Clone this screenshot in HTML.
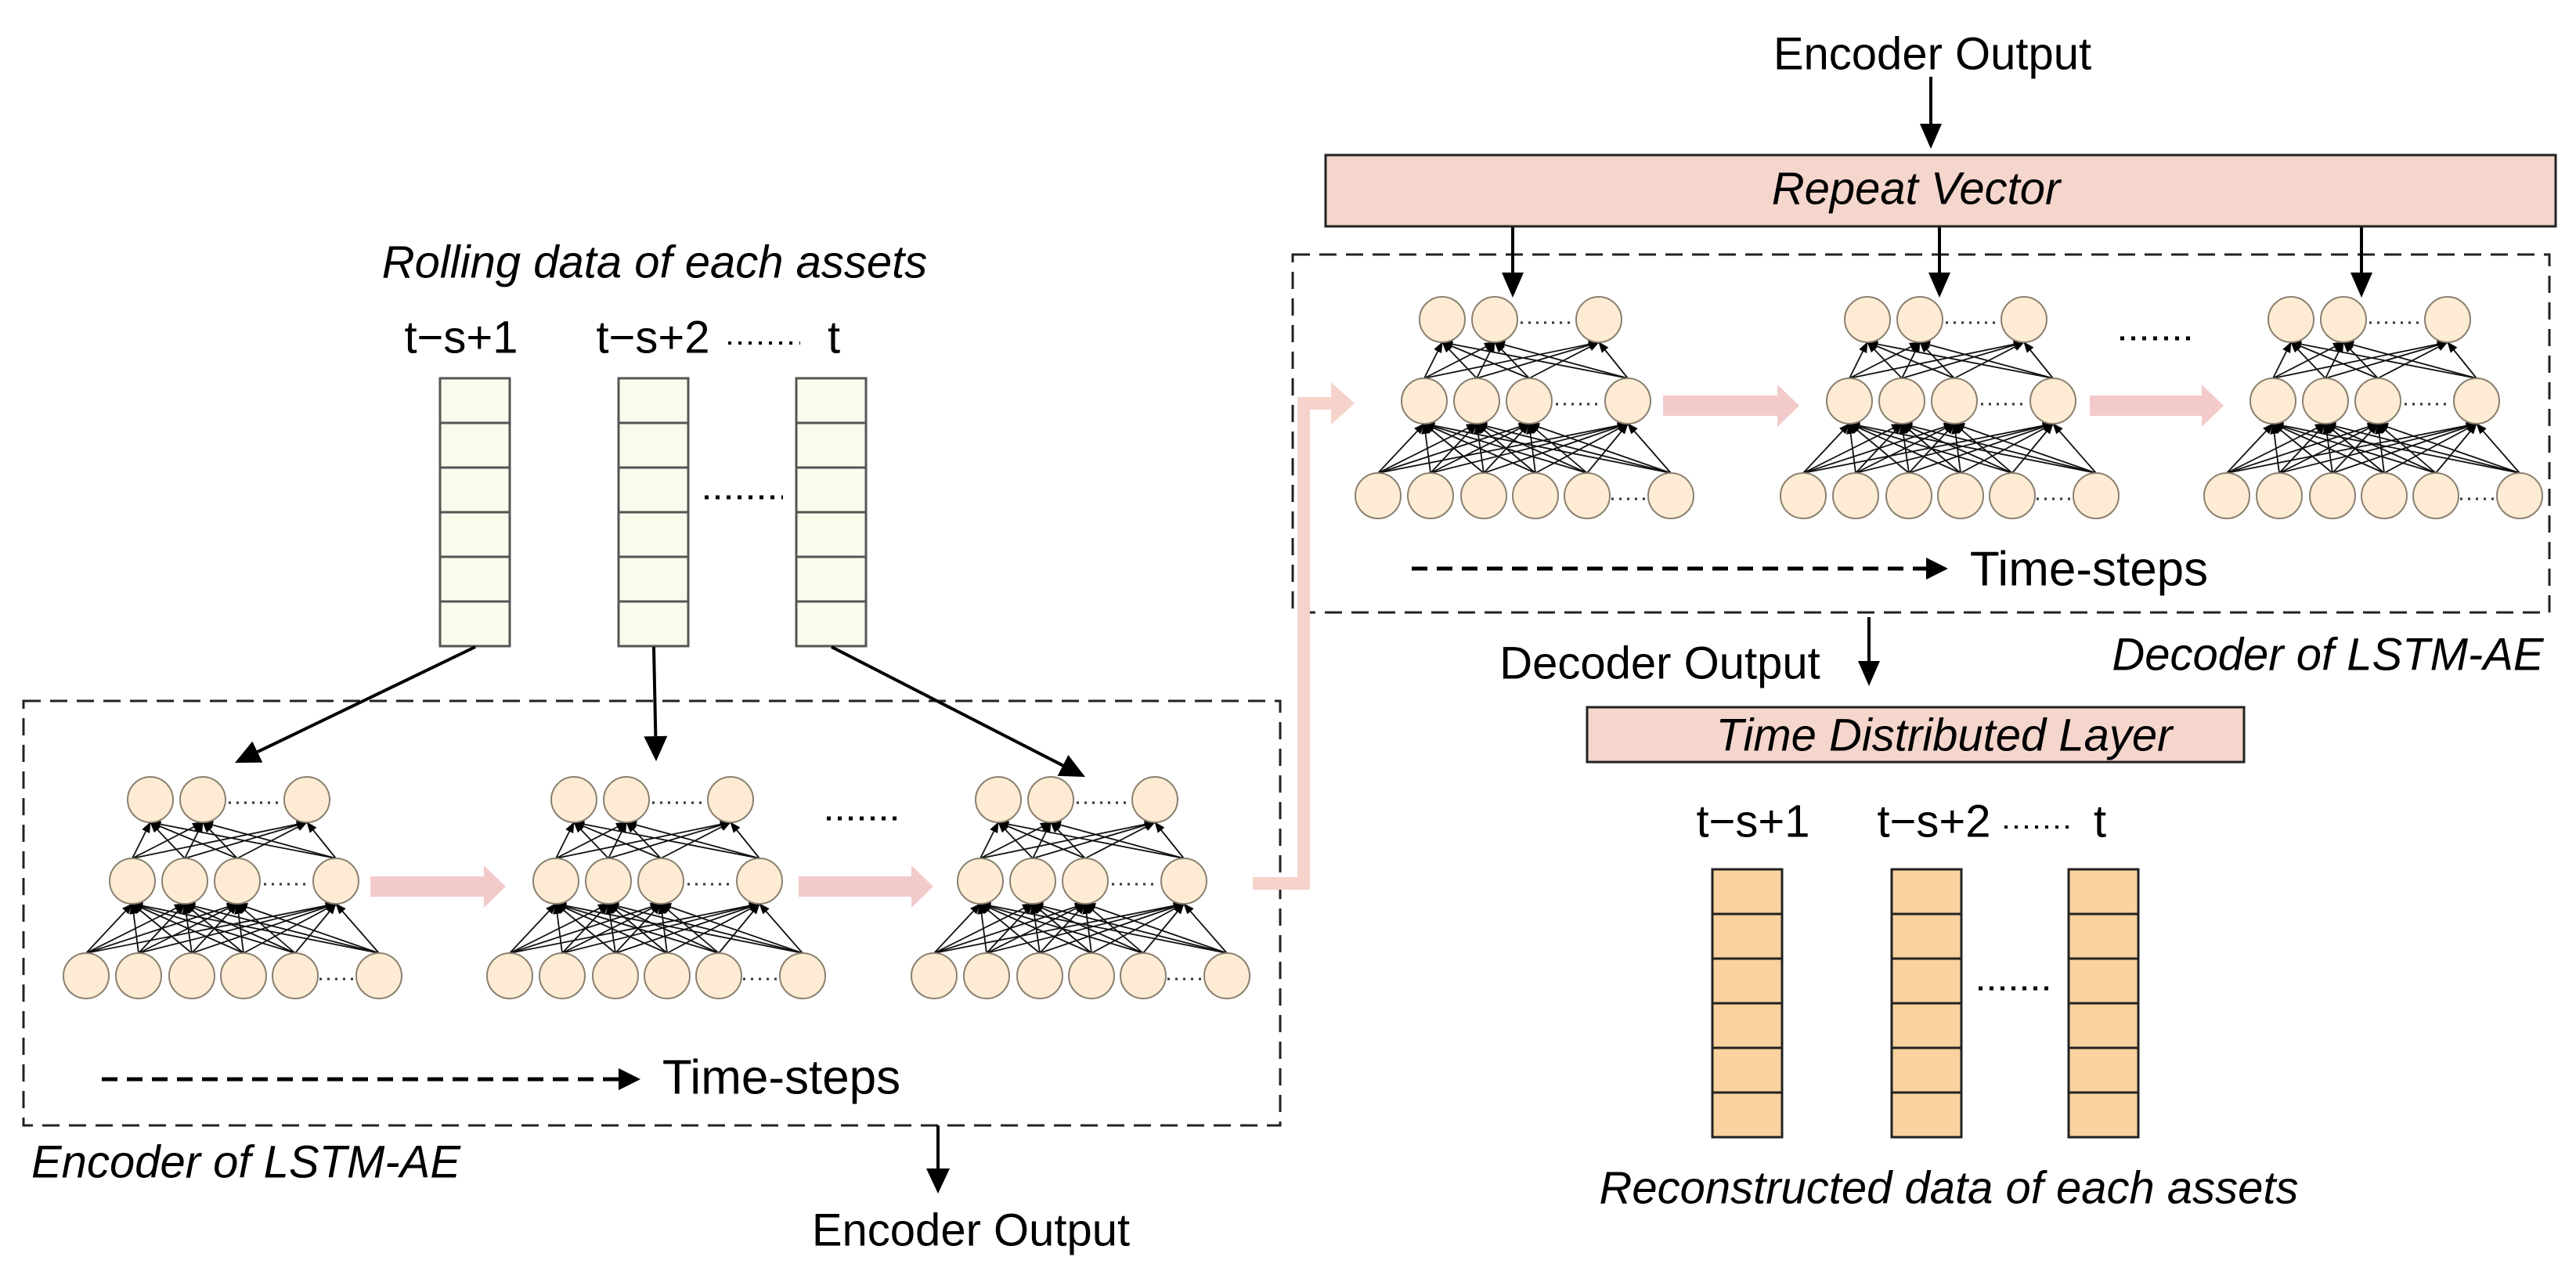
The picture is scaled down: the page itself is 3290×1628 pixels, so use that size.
<!DOCTYPE html>
<html><head><meta charset="utf-8"><style>
html,body{margin:0;padding:0;background:#fff;}
svg{display:block;}
text{font-family:"Liberation Sans",Arial,sans-serif;fill:#000;}
.it{font-style:italic;}
</style></head><body>
<svg id="s" width="3290" height="1628" viewBox="0 0 3290 1628" xmlns="http://www.w3.org/2000/svg">
<defs>
<marker id="ah" markerWidth="14" markerHeight="14" refX="13" refY="7" orient="auto" markerUnits="userSpaceOnUse">
<path d="M0,1.5 L14,7 L0,12.5 z" fill="#000"/></marker>
</defs>
<rect width="3290" height="1628" fill="#fff"/>
<rect x="30" y="895" width="1605" height="542" fill="none" stroke="#222" stroke-width="3" stroke-dasharray="22 12"/>
<rect x="1651" y="325" width="1605" height="457" fill="none" stroke="#222" stroke-width="3" stroke-dasharray="22 12"/>
<g id="g"></g>
<text x="836" y="334" dy="0.35em" font-size="58" class="it" text-anchor="middle">Rolling data of each assets</text>
<text x="589" y="430" dy="0.35em" font-size="58" text-anchor="middle">t−s+1</text>
<text x="834" y="430" dy="0.35em" font-size="58" text-anchor="middle">t−s+2</text>
<text x="1065" y="430" dy="0.35em" font-size="58" text-anchor="middle">t</text>
<line x1="930" y1="438" x2="1022" y2="438" stroke="#000" stroke-width="4" stroke-dasharray="4 9"/>
<text x="998" y="1375" dy="0.35em" font-size="62" text-anchor="middle">Time-steps</text>
<text x="314" y="1483" dy="0.35em" font-size="58" class="it" text-anchor="middle">Encoder of LSTM-AE</text>
<text x="1240" y="1570" dy="0.35em" font-size="58" text-anchor="middle">Encoder Output</text>
<text x="2468" y="68" dy="0.35em" font-size="58" text-anchor="middle">Encoder Output</text>
<rect x="1693" y="198" width="1571" height="91" fill="#f5d6cc" stroke="#222" stroke-width="3"/>
<text x="2447" y="240" dy="0.35em" font-size="58" class="it" text-anchor="middle">Repeat Vector</text>
<text x="2668" y="726" dy="0.35em" font-size="62" text-anchor="middle">Time-steps</text>
<text x="2120" y="846" dy="0.35em" font-size="58" text-anchor="middle">Decoder Output</text>
<text x="2973" y="835" dy="0.35em" font-size="58" class="it" text-anchor="middle">Decoder of LSTM-AE</text>
<rect x="2027" y="903" width="839" height="70" fill="#f5d6cc" stroke="#222" stroke-width="3"/>
<text x="2483" y="938" dy="0.35em" font-size="58" class="it" text-anchor="middle">Time Distributed Layer</text>
<text x="2239" y="1048" dy="0.35em" font-size="58" text-anchor="middle">t−s+1</text>
<text x="2470" y="1048" dy="0.35em" font-size="58" text-anchor="middle">t−s+2</text>
<text x="2682" y="1048" dy="0.35em" font-size="58" text-anchor="middle">t</text>
<line x1="2560" y1="1056" x2="2650" y2="1056" stroke="#000" stroke-width="4" stroke-dasharray="4 9"/>
<text x="2489" y="1516" dy="0.35em" font-size="58" class="it" text-anchor="middle">Reconstructed data of each assets</text>
</svg>
<script>
(function(){
var NS="http://www.w3.org/2000/svg",g=document.getElementById("g");
function el(t,a){var e=document.createElementNS(NS,t);for(var k in a)e.setAttribute(k,a[k]);g.appendChild(e);return e;}
function bars(xs,top,fill,stroke){xs.forEach(function(x){for(var i=0;i<6;i++)el("rect",{x:x,y:top+i*57,width:89,height:57,fill:fill,stroke:stroke,"stroke-width":3});});}
bars([562,790,1017],483,"#fafbec","#555");
bars([2187,2416,2642],1110,"#f9d29f","#222");
el("line",{x1:900,y1:635,x2:1000,y2:635,stroke:"#000","stroke-width":5,"stroke-dasharray":"5 9"});
el("line",{x1:2527,y1:1262,x2:2625,y2:1262,stroke:"#000","stroke-width":5,"stroke-dasharray":"5 9"});
function arr(x1,y1,x2,y2,w,hl,hw){var dx=x2-x1,dy=y2-y1,L=Math.sqrt(dx*dx+dy*dy),ux=dx/L,uy=dy/L;
 var bx=x2-ux*hl,by=y2-uy*hl;el("line",{x1:x1,y1:y1,x2:bx,y2:by,stroke:"#000","stroke-width":w});
 el("polygon",{points:x2+","+y2+" "+(bx-uy*hw/2)+","+(by+ux*hw/2)+" "+(bx+uy*hw/2)+","+(by-ux*hw/2),fill:"#000"});}
arr(607,826,300,974,4,32,30);arr(835,826,838,972,4,32,30);arr(1062,826,1386,992,4,32,30);
arr(1198,1437,1198,1524,4,32,30);
arr(2466,98,2466,190,4,32,28);
[1932,2477,3016].forEach(function(x){arr(x,289,x,380,4,32,28);});
arr(2387,788,2387,876,4,32,28);
el("line",{x1:130,y1:1378,x2:790,y2:1378,stroke:"#000","stroke-width":5,"stroke-dasharray":"20 12"});
el("polygon",{points:"818,1378 790,1364 790,1392",fill:"#000"});
el("line",{x1:1803,y1:726,x2:2460,y2:726,stroke:"#000","stroke-width":5,"stroke-dasharray":"20 12"});
el("polygon",{points:"2488,726 2460,712 2460,740",fill:"#000"});
var pk="#f3caca";
function parr(x1,x2,y){el("polygon",{points:x1+","+(y-13)+" "+(x2-28)+","+(y-13)+" "+(x2-28)+","+(y-27)+" "+x2+","+y+" "+(x2-28)+","+(y+27)+" "+(x2-28)+","+(y+13)+" "+x1+","+(y+13),fill:pk});}
parr(473,646,1132);parr(1020,1192,1132);parr(2124,2298,518);parr(2669,2840,518);
el("polyline",{points:"1600,1128 1665,1128 1665,515 1702,515",fill:"none",stroke:"#f5d3cb","stroke-width":16});
el("polygon",{points:"1730,515 1700,488 1700,542",fill:"#f5d3cb"});
el("line",{x1:1056,y1:1045,x2:1153,y2:1045,stroke:"#000","stroke-width":5,"stroke-dasharray":"5 9"});
el("line",{x1:2708,y1:432,x2:2805,y2:432,stroke:"#000","stroke-width":5,"stroke-dasharray":"5 9"});
var TX=[0,67,200],MX=[-23,44,111,237],BX=[-82,-15,53,119,185,292],YS=[0,104,225],R=29;
function net(ox,oy){
 var rows=[TX,MX,BX];
 BX.forEach(function(bx){MX.forEach(function(mx){el("line",{x1:ox+bx,y1:oy+YS[2]-R,x2:ox+mx,y2:oy+YS[1]+R,stroke:"#111","stroke-width":1.8,"marker-end":"url(#ah)"});});});
 MX.forEach(function(mx){TX.forEach(function(tx){el("line",{x1:ox+mx,y1:oy+YS[1]-R,x2:ox+tx,y2:oy+YS[0]+R,stroke:"#111","stroke-width":1.8,"marker-end":"url(#ah)"});});});
 rows.forEach(function(r,ri){r.forEach(function(x){el("circle",{cx:ox+x,cy:oy+YS[ri],r:R,fill:"#fdebd3",stroke:"#8a8070","stroke-width":2});});});
 el("line",{x1:ox+100,y1:oy+4,x2:ox+168,y2:oy+4,stroke:"#333","stroke-width":3,"stroke-dasharray":"3 7"});
 el("line",{x1:ox+145,y1:oy+YS[1]+4,x2:ox+205,y2:oy+YS[1]+4,stroke:"#333","stroke-width":3,"stroke-dasharray":"3 7"});
 el("line",{x1:ox+216,y1:oy+YS[2]+4,x2:ox+262,y2:oy+YS[2]+4,stroke:"#333","stroke-width":3,"stroke-dasharray":"3 7"});
}
net(192,1021);net(733,1021);net(1275,1021);
net(1842,408);net(2385,408);net(2926,408);
})();
</script>
</body></html>
